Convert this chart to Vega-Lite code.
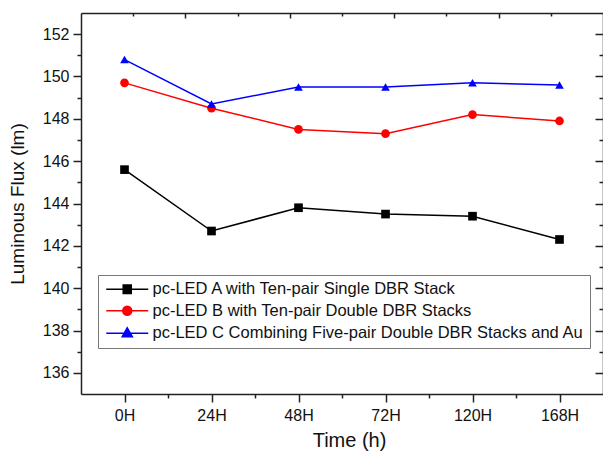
{
  "$schema": "https://vega.github.io/schema/vega-lite/v6.json",
  "width": 522,
  "height": 381,
  "autosize": {"type": "none"},
  "padding": {"left": 81, "top": 13, "right": 0, "bottom": 58},
  "background": "white",
  "config": {
    "view": {"stroke": null},
    "font": "Liberation Sans",
    "axis": {"grid": false, "domainColor": "#222", "tickColor": "#222", "domainWidth": 1.5, "tickWidth": 1.5, "labelColor": "#111", "titleColor": "#111", "labelFont": "Liberation Sans", "titleFont": "Liberation Sans", "titleFontWeight": "normal"}
  },
  "datasets": {
    "flux": [
      {"time": "0H", "series": "pc-LED A with Ten-pair Single DBR Stack", "flux": 145.6},
      {"time": "24H", "series": "pc-LED A with Ten-pair Single DBR Stack", "flux": 142.7},
      {"time": "48H", "series": "pc-LED A with Ten-pair Single DBR Stack", "flux": 143.8},
      {"time": "72H", "series": "pc-LED A with Ten-pair Single DBR Stack", "flux": 143.5},
      {"time": "120H", "series": "pc-LED A with Ten-pair Single DBR Stack", "flux": 143.4},
      {"time": "168H", "series": "pc-LED A with Ten-pair Single DBR Stack", "flux": 142.3},
      {"time": "0H", "series": "pc-LED B with Ten-pair Double DBR Stacks", "flux": 149.7},
      {"time": "24H", "series": "pc-LED B with Ten-pair Double DBR Stacks", "flux": 148.5},
      {"time": "48H", "series": "pc-LED B with Ten-pair Double DBR Stacks", "flux": 147.5},
      {"time": "72H", "series": "pc-LED B with Ten-pair Double DBR Stacks", "flux": 147.3},
      {"time": "120H", "series": "pc-LED B with Ten-pair Double DBR Stacks", "flux": 148.2},
      {"time": "168H", "series": "pc-LED B with Ten-pair Double DBR Stacks", "flux": 147.9},
      {"time": "0H", "series": "pc-LED C Combining Five-pair Double DBR Stacks and Au", "flux": 150.8},
      {"time": "24H", "series": "pc-LED C Combining Five-pair Double DBR Stacks and Au", "flux": 148.7},
      {"time": "48H", "series": "pc-LED C Combining Five-pair Double DBR Stacks and Au", "flux": 149.5},
      {"time": "72H", "series": "pc-LED C Combining Five-pair Double DBR Stacks and Au", "flux": 149.5},
      {"time": "120H", "series": "pc-LED C Combining Five-pair Double DBR Stacks and Au", "flux": 149.7},
      {"time": "168H", "series": "pc-LED C Combining Five-pair Double DBR Stacks and Au", "flux": 149.6}
    ]
  },
  "resolve": {"scale": {"x": "independent", "y": "independent"}, "axis": {"x": "independent", "y": "independent"}},
  "layer": [
    {
      "data": {"name": "flux"},
      "encoding": {
        "x": {"field": "time", "type": "ordinal", "sort": ["0H", "24H", "48H", "72H", "120H", "168H"],
          "scale": {"type": "point", "padding": 0.5},
          "axis": {"orient": "bottom", "title": "Time (h)", "labelAngle": 0, "tickSize": 8, "labelFontSize": 16, "labelPadding": 5, "titleFontSize": 20, "titlePadding": 7, "titleX": 268}},
        "y": {"field": "flux", "type": "quantitative", "scale": {"domain": [135, 153], "nice": false, "zero": false},
          "axis": {"orient": "left", "title": "Luminous Flux (lm)", "values": [136, 138, 140, 142, 144, 146, 148, 150, 152], "tickSize": 8, "labelFontSize": 16, "labelPadding": 4, "titleFontSize": 19, "titlePadding": 15}},
        "color": {"field": "series", "type": "nominal",
          "scale": {"domain": ["pc-LED A with Ten-pair Single DBR Stack", "pc-LED B with Ten-pair Double DBR Stacks", "pc-LED C Combining Five-pair Double DBR Stacks and Au"], "range": ["#000000", "#ff0000", "#0000ff"]},
          "legend": {"title": null, "orient": "none", "legendX": 17, "legendY": 262, "padding": 6, "strokeColor": "#777", "fillColor": "white",
            "labelFontSize": 16.5, "labelFont": "Liberation Sans", "labelColor": "#111", "labelOffset": 32, "labelLimit": 500, "symbolSize": 144, "rowPadding": 4.5,
            "encode": {"symbols": {"update": {
              "shape": {"signal": "datum.index === 0 ? 'M-1,0H6M1.83,-0.7H3.17V0.7H1.83Z' : datum.index === 1 ? 'M-1,0H6M3.25,0A0.75,0.75 0 1,1 1.75,0A0.75,0.75 0 1,1 3.25,0Z' : 'M-1,0H6M2.5,-0.9L3.35,0.6H1.65Z'"},
              "fill": {"signal": "scale('color', datum.value)"},
              "stroke": {"signal": "scale('color', datum.value)"},
              "strokeWidth": {"signal": "1.5"}
            }}}}}
      },
      "layer": [
        {"mark": {"type": "line", "strokeWidth": 1.5}},
        {"mark": {"type": "point", "filled": true, "opacity": 1, "size": 75},
          "encoding": {"shape": {"field": "series", "type": "nominal", "scale": {"range": ["square", "circle", "triangle-up"]}, "legend": null}}}
      ]
    },
    {
      "mark": {"type": "point", "opacity": 0},
      "encoding": {
        "x": {"datum": 5, "type": "quantitative", "scale": {"domain": [0, 12], "nice": false, "zero": false},
          "axis": {"orient": "bottom", "values": [2, 4, 6, 8, 10], "tickSize": 4, "labels": false, "domain": false, "title": null}},
        "y": {"datum": 140, "type": "quantitative", "scale": {"domain": [135, 153], "nice": false, "zero": false},
          "axis": {"orient": "left", "values": [137, 139, 141, 143, 145, 147, 149, 151], "tickSize": 4, "labels": false, "domain": false, "title": null}}
      }
    },
    {
      "mark": {"type": "point", "opacity": 0},
      "encoding": {
        "x": {"datum": 5, "type": "quantitative", "scale": {"domain": [0, 10], "nice": false, "zero": false},
          "axis": {"orient": "top", "values": [2, 4, 6, 8], "tickSize": -5, "labels": false, "domain": true, "title": null}},
        "y": {"datum": 140, "type": "quantitative", "scale": {"domain": [135, 153], "nice": false, "zero": false},
          "axis": {"orient": "right", "values": [136, 138, 140, 142, 144, 146, 148, 150, 152], "tickSize": -8, "labels": false, "domain": true, "title": null}}
      }
    },
    {
      "mark": {"type": "point", "opacity": 0},
      "encoding": {
        "x": {"datum": 5, "type": "quantitative", "scale": {"domain": [0, 10], "nice": false, "zero": false},
          "axis": {"orient": "top", "values": [1, 3, 5, 7, 9], "tickSize": -3, "labels": false, "domain": false, "title": null}},
        "y": {"datum": 140, "type": "quantitative", "scale": {"domain": [135, 153], "nice": false, "zero": false},
          "axis": {"orient": "right", "values": [137, 139, 141, 143, 145, 147, 149, 151], "tickSize": -4, "labels": false, "domain": false, "title": null}}
      }
    }
  ]
}
